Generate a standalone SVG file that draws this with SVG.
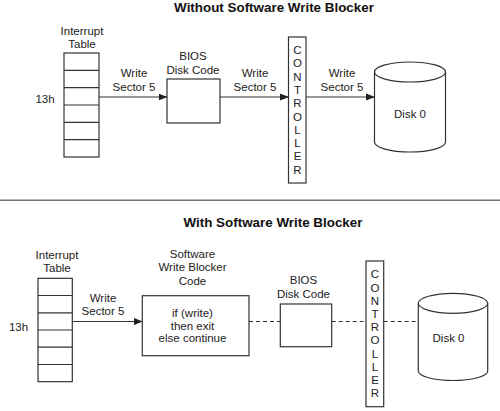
<svg xmlns="http://www.w3.org/2000/svg" width="500" height="411" viewBox="0 0 500 411">
<defs>
<marker id="arr" markerWidth="9" markerHeight="8" refX="8.5" refY="4" orient="auto" markerUnits="userSpaceOnUse">
<path d="M0,0.5 L9,4 L0,7.5 Z" fill="#222"/>
</marker>
<style>
text{font-family:"Liberation Sans",Arial,sans-serif;font-size:11.5px;fill:#222;text-anchor:middle}
.title{font-weight:bold;font-size:13.4px;fill:#111}
.box{fill:#fff;stroke:#333;stroke-width:1.2}
.ln{fill:none;stroke:#333;stroke-width:1.2}
.arrow{fill:none;stroke:#333;stroke-width:1.2;marker-end:url(#arr)}
.dash{fill:none;stroke:#333;stroke-width:1.2;stroke-dasharray:4,3}
</style>
</defs>
<rect width="500" height="411" fill="#fff"/>

<text class="title" x="274" y="12">Without Software Write Blocker</text>
<line x1="0" y1="200.3" x2="500" y2="200.3" stroke="#777" stroke-width="1.5"/>
<text class="title" x="273" y="227">With Software Write Blocker</text>

<!-- Top section -->
<g id="top-connectors">
<line class="arrow" x1="99" y1="97" x2="167" y2="97"/>
<line class="arrow" x1="220" y1="97" x2="288.5" y2="97"/>
<line class="arrow" x1="306" y1="97" x2="374.5" y2="97"/>
<text x="134" y="77">Write</text>
<text x="134" y="91">Sector 5</text>
<text x="255" y="77">Write</text>
<text x="255" y="91">Sector 5</text>
<text x="342" y="77">Write</text>
<text x="342" y="91">Sector 5</text>
</g>

<g id="top-table">
<text x="82" y="35">Interrupt</text>
<text x="82" y="48">Table</text>
<rect class="box" x="64" y="53" width="35" height="104"/>
<path class="ln" d="M64,70.3H99M64,87.7H99M64,105H99M64,122.3H99M64,139.7H99"/>
<text x="45" y="103">13h</text>
</g>

<g id="top-bios">
<text x="193" y="60">BIOS</text>
<text x="193" y="74">Disk Code</text>
<rect class="box" x="167" y="79" width="53" height="44"/>
</g>

<g id="top-controller">
<rect class="box" x="288.5" y="37" width="17.5" height="146"/>
<text x="297.5" y="54">C</text>
<text x="297.5" y="67.3">O</text>
<text x="297.5" y="80.6">N</text>
<text x="297.5" y="93.9">T</text>
<text x="297.5" y="107.2">R</text>
<text x="297.5" y="120.5">O</text>
<text x="297.5" y="133.8">L</text>
<text x="297.5" y="147.1">L</text>
<text x="297.5" y="160.4">E</text>
<text x="297.5" y="173.7">R</text>
</g>

<g id="top-disk">
<path class="box" d="M374.5,72 V142 A35.5,10 0 0 0 445.5,142 V72"/>
<ellipse class="box" cx="410" cy="72" rx="35.5" ry="10"/>
<text x="410" y="118">Disk 0</text>
</g>

<!-- Bottom section -->
<g id="bottom-connectors">
<line class="arrow" x1="72" y1="321.5" x2="142.3" y2="321.5"/>
<text x="103" y="301.5">Write</text>
<text x="103" y="315">Sector 5</text>
<line class="dash" x1="249" y1="321.5" x2="280.3" y2="321.5"/>
<line class="dash" x1="331.7" y1="321.5" x2="366" y2="321.5"/>
<line class="dash" x1="383.7" y1="321.5" x2="418.3" y2="321.5"/>
</g>

<g id="bottom-table">
<text x="57" y="259">Interrupt</text>
<text x="57" y="272">Table</text>
<rect class="box" x="38" y="278.3" width="34.3" height="103.4"/>
<path class="ln" d="M38,295.5H72.3M38,312.8H72.3M38,330H72.3M38,347.2H72.3M38,364.5H72.3"/>
<text x="18.5" y="331">13h</text>
</g>

<g id="bottom-blocker">
<text x="192.5" y="257.5">Software</text>
<text x="192.5" y="271">Write Blocker</text>
<text x="192.5" y="284.5">Code</text>
<rect class="box" x="142.3" y="295.7" width="106.7" height="60"/>
<text x="192.5" y="317">if (write)</text>
<text x="192.5" y="329.5">then exit</text>
<text x="192.5" y="342">else continue</text>
</g>

<g id="bottom-bios">
<text x="303.5" y="283.5">BIOS</text>
<text x="303.5" y="297.5">Disk Code</text>
<rect class="box" x="280.3" y="304" width="51.4" height="42.7"/>
</g>

<g id="bottom-controller">
<rect class="box" x="366" y="261" width="17.7" height="145.7"/>
<text x="375" y="278.3">C</text>
<text x="375" y="291.5">O</text>
<text x="375" y="304.7">N</text>
<text x="375" y="317.9">T</text>
<text x="375" y="331.1">R</text>
<text x="375" y="344.3">O</text>
<text x="375" y="357.5">L</text>
<text x="375" y="370.7">L</text>
<text x="375" y="383.9">E</text>
<text x="375" y="397.1">R</text>
</g>

<g id="bottom-disk">
<path class="box" d="M418.3,303.3 V371 A34.7,9.5 0 0 0 487.7,371 V303.3"/>
<ellipse class="box" cx="453" cy="303.3" rx="34.7" ry="10"/>
<text x="448.5" y="341.7">Disk 0</text>
</g>
</svg>
